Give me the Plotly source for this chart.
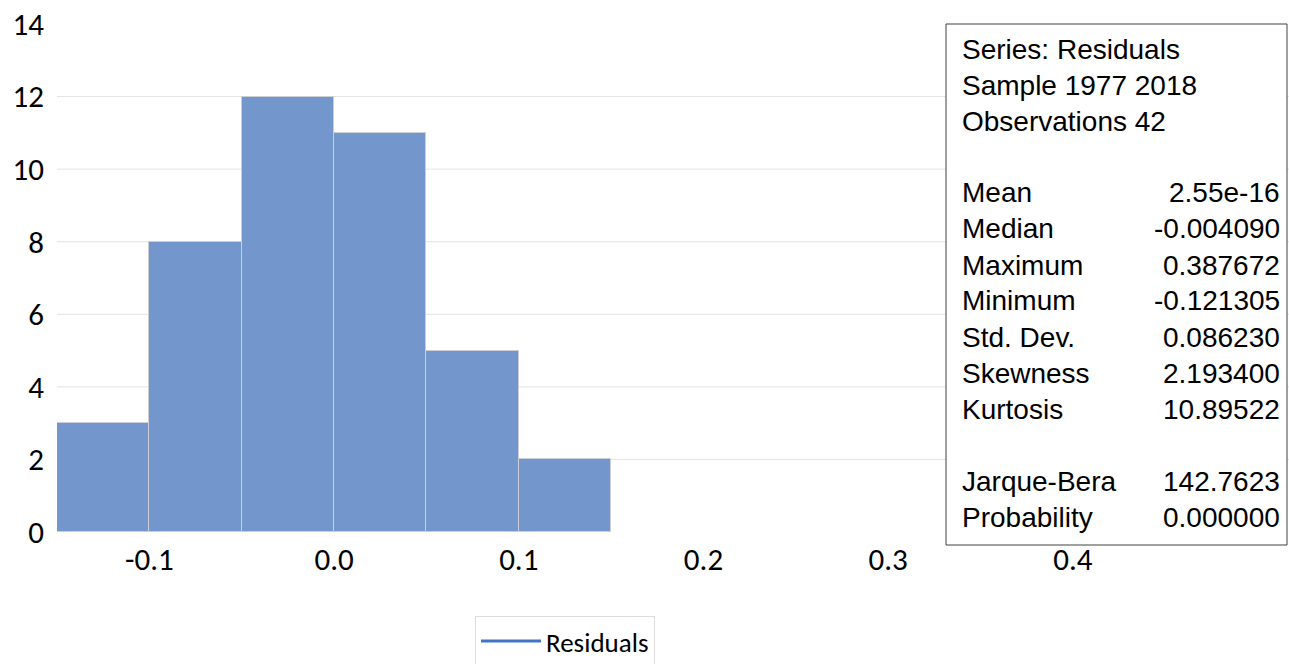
import plotly.graph_objects as go

# Histogram bins (left edges) and counts
bin_left = [-0.15, -0.10, -0.05, 0.00, 0.05, 0.10, 0.35]
bin_width = 0.05
counts = [3, 8, 12, 11, 5, 2, 1]

x_ticks = [-0.1, 0.0, 0.1, 0.2, 0.3, 0.4]
x_tick_text = ["-0.1", "0.0", "0.1", "0.2", "0.3", "0.4"]
y_ticks = [0, 2, 4, 6, 8, 10, 12, 14]
grid_vals = [2, 4, 6, 8, 10, 12]

stats_rows = [
    ("Series: Residuals", ""),
    ("Sample 1977 2018", ""),
    ("Observations 42", ""),
    ("", ""),
    ("Mean", "2.55e-16"),
    ("Median", "-0.004090"),
    ("Maximum", "0.387672"),
    ("Minimum", "-0.121305"),
    ("Std. Dev.", "0.086230"),
    ("Skewness", "2.193400"),
    ("Kurtosis", "10.89522"),
    ("", ""),
    ("Jarque-Bera", "142.7623"),
    ("Probability", "0.000000"),
]

centers = [b + bin_width / 2 for b in bin_left]

fig = go.Figure()
fig.add_trace(go.Bar(
    x=centers, y=counts, width=[bin_width] * len(counts),
    marker=dict(color="#7396CC", line=dict(color="#CBCED6", width=1)),
    showlegend=False, hoverinfo="x+y",
))
fig.add_trace(go.Scatter(
    x=[None], y=[None], mode="lines", name="Residuals",
    line=dict(color="#4472C4", width=3),
))

W, H = 1289, 664
L, R, T, B = 57, 0, 24, 132
pw, ph = W - L - R, H - T - B

shapes = []
for g in grid_vals:
    shapes.append(dict(type="line", xref="paper", yref="y", x0=0, x1=1, y0=g, y1=g,
                       line=dict(color="#E3E3E3", width=1), layer="below"))

def px_x(p):
    return (p - L) / pw

def px_y(p):
    return (H - B - p) / ph

shapes.append(dict(type="rect", xref="paper", yref="paper",
                   x0=px_x(946), x1=px_x(1287), y0=px_y(545), y1=px_y(24),
                   fillcolor="white", line=dict(color="#404040", width=1), layer="above"))

annotations = []
row0, step = 49, 36
font_box = dict(family="Liberation Sans, Arial, sans-serif", size=28, color="#000000")
for i, (lab, val) in enumerate(stats_rows):
    yy = px_y(row0 + i * step)
    if lab:
        annotations.append(dict(xref="paper", yref="paper", x=px_x(960), y=yy, text=lab,
                                showarrow=False, xanchor="left", yanchor="middle", font=font_box))
    if val:
        annotations.append(dict(xref="paper", yref="paper", x=px_x(1282), y=yy, text=val,
                                showarrow=False, xanchor="right", yanchor="middle", font=font_box))

tick_font = dict(family="Calibri, Carlito, Lato, sans-serif", size=31, color="#000000")

fig.update_layout(
    width=W, height=H,
    margin=dict(l=L, r=R, t=T, b=B, autoexpand=False),
    paper_bgcolor="white", plot_bgcolor="white",
    bargap=0,
    xaxis=dict(range=[-0.15, 0.517], tickvals=x_ticks, ticktext=x_tick_text,
               showgrid=False, zeroline=False, showline=False, ticks="",
               tickfont=tick_font, ticklabelstandoff=6),
    yaxis=dict(range=[0, 14], tickvals=y_ticks, showgrid=False, zeroline=False,
               showline=False, ticks="", tickfont=tick_font, ticklabelstandoff=12),
    legend=dict(orientation="h", x=px_x(565), xanchor="center", y=px_y(616), yanchor="top",
                bordercolor="#DDDDDD", borderwidth=1, bgcolor="white", itemwidth=60,
                font=dict(family="Calibri, Carlito, Lato, sans-serif", size=27, color="#000000")),
    shapes=shapes, annotations=annotations,
)

fig.write_html("out.html", config={"displayModeBar": False},
               post_script="document.body.style.margin='0';document.body.style.overflow='hidden';")
